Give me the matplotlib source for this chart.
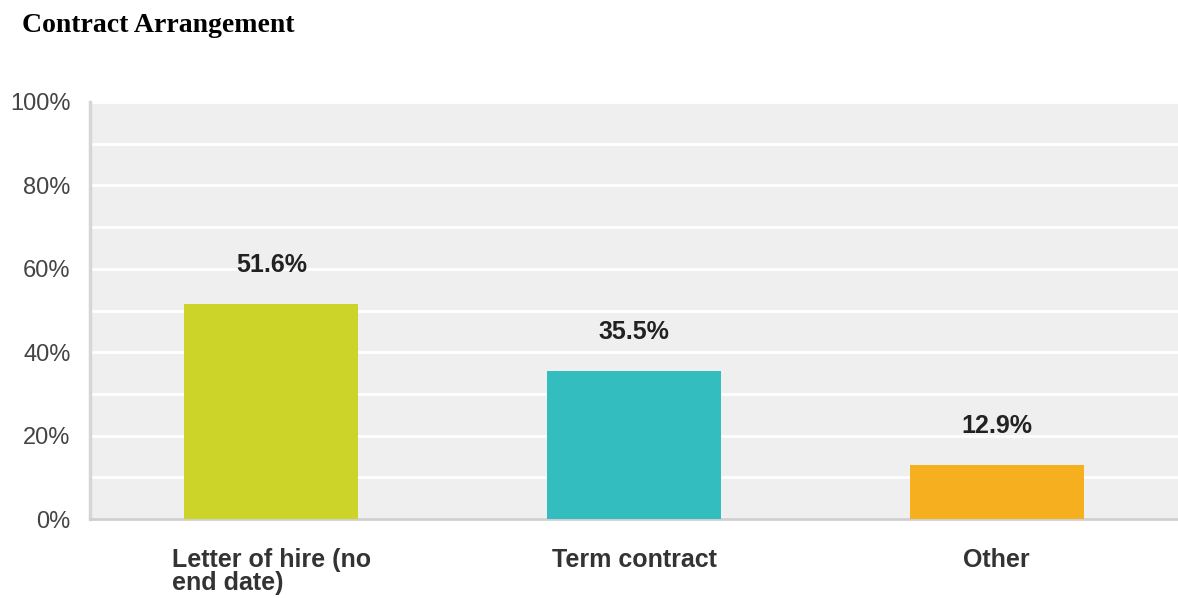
import matplotlib.pyplot as plt
from matplotlib.ticker import FuncFormatter

categories = ["Letter of hire (no\nend date)", "Term contract", "Other"]
values = [51.6, 35.5, 12.9]
colors = ["#cdd429", "#33bdbf", "#f6b01f"]

fig = plt.figure(figsize=(11.78, 5.98), dpi=100)
ax = fig.add_axes([90 / 1178, 1 - 519 / 598, 1088 / 1178, 417 / 598])
ax.set_facecolor("#efefef")

x = range(len(categories))
ax.bar(x, values, width=0.48, color=colors, zorder=3)
for i, v in zip(x, values):
    ax.annotate(f"{v:.1f}%", (i, v), xytext=(0, 28), textcoords="offset points",
                ha="center", va="center", fontsize=18, fontweight="bold",
                family="Liberation Sans", color="#222222")

ax.set_xlim(-0.5, 2.5)
ax.set_ylim(0, 100)
ax.set_yticks(range(0, 101, 20))
ax.set_yticks(range(10, 100, 20), minor=True)
ax.yaxis.set_major_formatter(FuncFormatter(lambda v, p: f"{v:.0f}%"))
ax.grid(axis="y", which="both", color="white", linewidth=2, zorder=1)
ax.tick_params(axis="y", which="both", length=0, pad=14, labelsize=17,
               labelcolor="#444444")
ax.tick_params(axis="x", length=0, pad=21)
ax.set_xticks(list(x))
ax.set_xticklabels(categories, fontsize=18, fontweight="bold", color="#333333",
                   family="Liberation Sans", va="top", ma="left", linespacing=0.95)
for lab in ax.get_yticklabels():
    lab.set_family("Liberation Sans")

for s in ["top", "right"]:
    ax.spines[s].set_visible(False)
ax.spines["left"].set_color("#d6d6d6")
ax.spines["left"].set_linewidth(2.5)
ax.spines["bottom"].set_color("#cfcfcf")
ax.spines["bottom"].set_linewidth(2)

fig.text(22 / 1178, 1 - 25 / 598, "Contract Arrangement", fontsize=20,
         fontweight="bold", family="Liberation Serif", va="center", ha="left")

fig.savefig("out.png", dpi=100)
